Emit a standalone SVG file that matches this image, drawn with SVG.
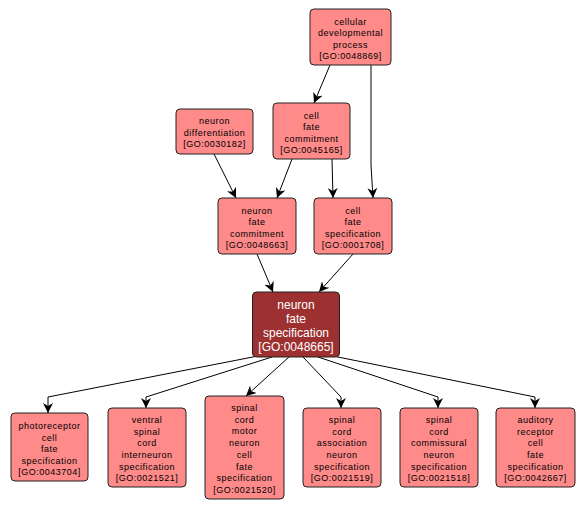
<svg xmlns="http://www.w3.org/2000/svg" width="587" height="509" viewBox="0 0 587 509">
<defs>
<marker id="ah" viewBox="0 0 10 10" refX="10" refY="5" markerWidth="10" markerHeight="10" markerUnits="userSpaceOnUse" orient="auto">
<path d="M0,0 L10,5 L0,10 L3,5 Z" fill="#000"/>
</marker>
</defs>
<style>
.n rect{fill:#fe8a8a;stroke:#222;stroke-width:1}
.n text{font-family:"Liberation Sans",Arial,sans-serif;font-size:9px;letter-spacing:0.5px;fill:#000;text-anchor:middle}
.m rect{fill:#9d3030;stroke:#222;stroke-width:1}
.m text{font-family:"Liberation Sans",Arial,sans-serif;font-size:12px;fill:#fff;text-anchor:middle}
.e path{fill:none;stroke:#000;stroke-width:1;marker-end:url(#ah)}
</style>
<rect width="587" height="509" fill="#fff"/>
<g class="e" id="edges">
<path d="M330,65 L314,103"/>
<path d="M371,65 L371,165 L373,198"/>
<path d="M214,154 L236,198"/>
<path d="M292,159 L277,198"/>
<path d="M332,159 L333,198"/>
<path d="M257,254 L273,292"/>
<path d="M353,254 L319,292"/>
<path d="M258,356 L48,397 L48,413"/>
<path d="M272,357 L146,397 L146,408"/>
<path d="M289,357 L246,396"/>
<path d="M303,357 L341,397 L341,408"/>
<path d="M318,357 L438,397 L438,408"/>
<path d="M333,356 L535,397 L535,408"/>
</g>
<g class="n" id="GO0048869">
<rect x="310" y="9" width="81" height="56" rx="4"/>
<text x="350.5" y="24.5">cellular</text>
<text x="350.5" y="36">developmental</text>
<text x="350.5" y="47.5">process</text>
<text x="350.5" y="59">[GO:0048869]</text>
</g>
<g class="n" id="GO0030182">
<rect x="176" y="109" width="77" height="45" rx="4"/>
<text x="214.5" y="124">neuron</text>
<text x="214.5" y="135.5">differentiation</text>
<text x="214.5" y="147">[GO:0030182]</text>
</g>
<g class="n" id="GO0045165">
<rect x="273" y="103" width="77" height="56" rx="4"/>
<text x="311.5" y="118.5">cell</text>
<text x="311.5" y="130">fate</text>
<text x="311.5" y="141.5">commitment</text>
<text x="311.5" y="153">[GO:0045165]</text>
</g>
<g class="n" id="GO0048663">
<rect x="218" y="198" width="78" height="56" rx="4"/>
<text x="257" y="213.5">neuron</text>
<text x="257" y="225">fate</text>
<text x="257" y="236.5">commitment</text>
<text x="257" y="248">[GO:0048663]</text>
</g>
<g class="n" id="GO0001708">
<rect x="314" y="198" width="78" height="56" rx="4"/>
<text x="353" y="213.5">cell</text>
<text x="353" y="225">fate</text>
<text x="353" y="236.5">specification</text>
<text x="353" y="248">[GO:0001708]</text>
</g>
<g class="m" id="GO0048665">
<rect x="252.5" y="292" width="87" height="65" rx="4"/>
<text x="296" y="308.5">neuron</text>
<text x="296" y="322.5">fate</text>
<text x="296" y="336.8">specification</text>
<text x="296" y="351">[GO:0048665]</text>
</g>
<g class="n" id="GO0043704">
<rect x="11" y="413" width="77" height="68" rx="4"/>
<text x="49.5" y="428.5">photoreceptor</text>
<text x="49.5" y="440.5">cell</text>
<text x="49.5" y="452">fate</text>
<text x="49.5" y="463.5">specification</text>
<text x="49.5" y="475">[GO:0043704]</text>
</g>
<g class="n" id="GO0021521">
<rect x="108" y="408" width="78" height="79" rx="4"/>
<text x="147" y="422.5">ventral</text>
<text x="147" y="434.5">spinal</text>
<text x="147" y="446">cord</text>
<text x="147" y="457.5">interneuron</text>
<text x="147" y="469.5">specification</text>
<text x="147" y="481">[GO:0021521]</text>
</g>
<g class="n" id="GO0021520">
<rect x="205" y="396" width="79" height="103" rx="4"/>
<text x="244.5" y="410.5">spinal</text>
<text x="244.5" y="422.5">cord</text>
<text x="244.5" y="434">motor</text>
<text x="244.5" y="446">neuron</text>
<text x="244.5" y="457.5">cell</text>
<text x="244.5" y="469.5">fate</text>
<text x="244.5" y="481">specification</text>
<text x="244.5" y="493">[GO:0021520]</text>
</g>
<g class="n" id="GO0021519">
<rect x="303" y="408" width="78" height="79" rx="4"/>
<text x="342" y="422.5">spinal</text>
<text x="342" y="434.5">cord</text>
<text x="342" y="446">association</text>
<text x="342" y="457.5">neuron</text>
<text x="342" y="469.5">specification</text>
<text x="342" y="481">[GO:0021519]</text>
</g>
<g class="n" id="GO0021518">
<rect x="400" y="408" width="78" height="79" rx="4"/>
<text x="439" y="422.5">spinal</text>
<text x="439" y="434.5">cord</text>
<text x="439" y="446">commissural</text>
<text x="439" y="457.5">neuron</text>
<text x="439" y="469.5">specification</text>
<text x="439" y="481">[GO:0021518]</text>
</g>
<g class="n" id="GO0042667">
<rect x="496" y="408" width="79" height="79" rx="4"/>
<text x="535.5" y="422.5">auditory</text>
<text x="535.5" y="434.5">receptor</text>
<text x="535.5" y="446">cell</text>
<text x="535.5" y="457.5">fate</text>
<text x="535.5" y="469.5">specification</text>
<text x="535.5" y="481">[GO:0042667]</text>
</g>
</svg>
